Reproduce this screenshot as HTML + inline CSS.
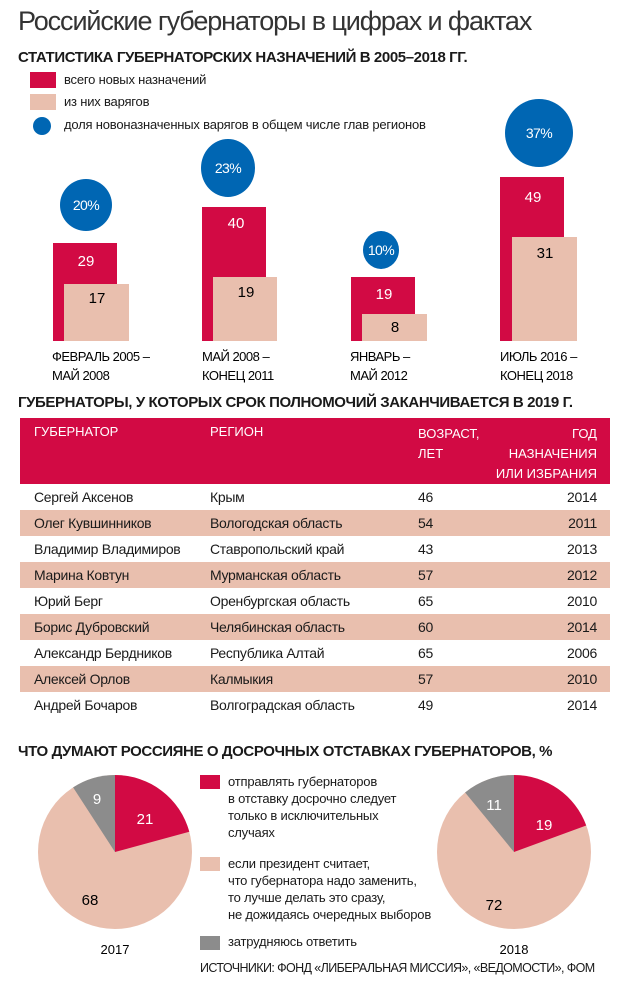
<!DOCTYPE html>
<html><head><meta charset="utf-8"><style>
body{margin:0;width:629px;height:989px;background:#fff;font-family:"Liberation Sans",sans-serif;color:#1a1a1a;position:relative;overflow:hidden}
.a{position:absolute;white-space:nowrap}
.h{font-weight:bold;font-size:15px;letter-spacing:-0.4px}
.lg{font-size:13px;letter-spacing:-0.2px}
.row{position:absolute;left:20px;width:590px;height:26px;font-size:14px;letter-spacing:-0.3px}
.row span{position:absolute;top:5px}
.pink{background:#e9bfae}
</style></head><body>
<div class="a" style="left:18px;top:6px;font-size:27px;color:#333;letter-spacing:-1.1px">Российские губернаторы в цифрах и фактах</div>
<div class="a h" style="left:18px;top:49px">СТАТИСТИКА ГУБЕРНАТОРСКИХ НАЗНАЧЕНИЙ В 2005–2018 ГГ.</div>
<div class="a" style="left:30px;top:72px;width:26px;height:16px;background:#d20a44"></div>
<div class="a lg" style="left:64px;top:72px">всего новых назначений</div>
<div class="a" style="left:30px;top:94px;width:26px;height:16px;background:#e9bfae"></div>
<div class="a lg" style="left:64px;top:94px">из них варягов</div>
<div class="a" style="left:33px;top:117px;width:18px;height:18px;border-radius:50%;background:#0066b3"></div>
<div class="a lg" style="left:64px;top:117px">доля новоназначенных варягов в общем числе глав регионов</div>
<svg class="a" style="left:0;top:0" width="629" height="400" font-family="Liberation Sans" font-size="15" text-anchor="middle">
<rect x="53" y="243" width="64" height="98" fill="#d20a44"/><rect x="64" y="284" width="65" height="57" fill="#e9bfae"/>
<text x="86" y="266" fill="#fff">29</text><text x="97" y="303">17</text>
<rect x="202" y="207" width="64" height="134" fill="#d20a44"/><rect x="213" y="277" width="64" height="64" fill="#e9bfae"/>
<text x="236" y="228" fill="#fff">40</text><text x="246" y="297">19</text>
<rect x="351" y="277" width="64" height="64" fill="#d20a44"/><rect x="362" y="314" width="65" height="27" fill="#e9bfae"/>
<text x="384" y="299" fill="#fff">19</text><text x="395" y="332">8</text>
<rect x="500" y="177" width="64" height="164" fill="#d20a44"/><rect x="512" y="237" width="65" height="104" fill="#e9bfae"/>
<text x="533" y="202" fill="#fff">49</text><text x="545" y="258">31</text>
<g fill="#0066b3"><ellipse cx="86" cy="205" rx="26" ry="26"/><ellipse cx="228" cy="168" rx="27" ry="29"/><ellipse cx="381" cy="250" rx="18" ry="19"/><ellipse cx="539" cy="133" rx="34" ry="34"/></g>
<g fill="#fff" font-size="14" letter-spacing="-0.6"><text x="86" y="210">20%</text><text x="228" y="173">23%</text><text x="381" y="255">10%</text><text x="539" y="138">37%</text></g>
<g font-size="13" text-anchor="start" letter-spacing="-0.5"><text x="52" y="361">ФЕВРАЛЬ 2005 –</text><text x="52" y="380">МАЙ 2008</text>
<text x="202" y="361">МАЙ 2008 –</text><text x="202" y="380">КОНЕЦ 2011</text>
<text x="350" y="361">ЯНВАРЬ –</text><text x="350" y="380">МАЙ 2012</text>
<text x="500" y="361">ИЮЛЬ 2016 –</text><text x="500" y="380">КОНЕЦ 2018</text></g>
</svg>
<div class="a h" style="left:18px;top:394px">ГУБЕРНАТОРЫ, У КОТОРЫХ СРОК ПОЛНОМОЧИЙ ЗАКАНЧИВАЕТСЯ В 2019 Г.</div>
<div class="a" style="left:20px;top:418px;width:590px;height:66px;background:#d20a44;color:#fff;font-size:13px">
<span class="a" style="left:14px;top:6px">ГУБЕРНАТОР</span><span class="a" style="left:190px;top:6px">РЕГИОН</span>
<span class="a" style="left:398px;top:6px;line-height:20px">ВОЗРАСТ,<br>ЛЕТ</span>
<span class="a" style="right:13px;top:6px;line-height:20px;text-align:right">ГОД<br>НАЗНАЧЕНИЯ<br>ИЛИ ИЗБРАНИЯ</span></div>
<div class="row" style="top:484px"><span style="left:14px">Сергей Аксенов</span><span style="left:190px">Крым</span><span style="left:398px">46</span><span style="right:13px">2014</span></div>
<div class="row pink" style="top:510px"><span style="left:14px">Олег Кувшинников</span><span style="left:190px">Вологодская область</span><span style="left:398px">54</span><span style="right:13px">2011</span></div>
<div class="row" style="top:536px"><span style="left:14px">Владимир Владимиров</span><span style="left:190px">Ставропольский край</span><span style="left:398px">43</span><span style="right:13px">2013</span></div>
<div class="row pink" style="top:562px"><span style="left:14px">Марина Ковтун</span><span style="left:190px">Мурманская область</span><span style="left:398px">57</span><span style="right:13px">2012</span></div>
<div class="row" style="top:588px"><span style="left:14px">Юрий Берг</span><span style="left:190px">Оренбургская область</span><span style="left:398px">65</span><span style="right:13px">2010</span></div>
<div class="row pink" style="top:614px"><span style="left:14px">Борис Дубровский</span><span style="left:190px">Челябинская область</span><span style="left:398px">60</span><span style="right:13px">2014</span></div>
<div class="row" style="top:640px"><span style="left:14px">Александр Бердников</span><span style="left:190px">Республика Алтай</span><span style="left:398px">65</span><span style="right:13px">2006</span></div>
<div class="row pink" style="top:666px"><span style="left:14px">Алексей Орлов</span><span style="left:190px">Калмыкия</span><span style="left:398px">57</span><span style="right:13px">2010</span></div>
<div class="row" style="top:692px"><span style="left:14px">Андрей Бочаров</span><span style="left:190px">Волгоградская область</span><span style="left:398px">49</span><span style="right:13px">2014</span></div>
<div class="a h" style="left:18px;top:743px">ЧТО ДУМАЮТ РОССИЯНЕ О ДОСРОЧНЫХ ОТСТАВКАХ ГУБЕРНАТОРОВ, %</div>
<svg class="a" style="left:0;top:760px" width="629" height="229" font-family="Liberation Sans" font-size="15" text-anchor="middle">
<g transform="translate(115,92)">
<circle r="77" fill="#e9bfae"/>
<path d="M0 0 L0 -77 A77 77 0 0 1 74.3 -20.2 Z" fill="#d20a44"/>
<path d="M0 0 L-41.9 -64.6 A77 77 0 0 1 0 -77 Z" fill="#8c8c8c"/>
<text x="30" y="-28" fill="#fff">21</text><text x="-18" y="-48" fill="#fff">9</text><text x="-25" y="53">68</text>
</g>
<g transform="translate(514,92)">
<circle r="77" fill="#e9bfae"/>
<path d="M0 0 L0 -77 A77 77 0 0 1 72.2 -26.5 Z" fill="#d20a44"/>
<path d="M0 0 L-48.9 -59.5 A77 77 0 0 1 0 -77 Z" fill="#8c8c8c"/>
<text x="30" y="-22" fill="#fff">19</text><text x="-20" y="-42" fill="#fff">11</text><text x="-20" y="58">72</text>
</g>
<g font-size="13"><text x="115" y="194">2017</text><text x="514" y="194">2018</text></g>
</svg>
<div class="a" style="left:200px;top:775px;width:20px;height:14px;background:#d20a44"></div>
<div class="a lg" style="left:228px;top:773px;line-height:17px">отправлять губернаторов<br>в отставку досрочно следует<br>только в исключительных<br>случаях</div>
<div class="a" style="left:200px;top:857px;width:20px;height:14px;background:#e9bfae"></div>
<div class="a lg" style="left:228px;top:855px;line-height:17px">если президент считает,<br>что губернатора надо заменить,<br>то лучше делать это сразу,<br>не дожидаясь очередных выборов</div>
<div class="a" style="left:200px;top:936px;width:20px;height:14px;background:#8c8c8c"></div>
<div class="a lg" style="left:228px;top:934px">затрудняюсь ответить</div>
<div class="a" style="left:200px;top:961px;font-size:12.5px;letter-spacing:-0.6px">ИСТОЧНИКИ: ФОНД «ЛИБЕРАЛЬНАЯ МИССИЯ», «ВЕДОМОСТИ», ФОМ</div>
</body></html>
